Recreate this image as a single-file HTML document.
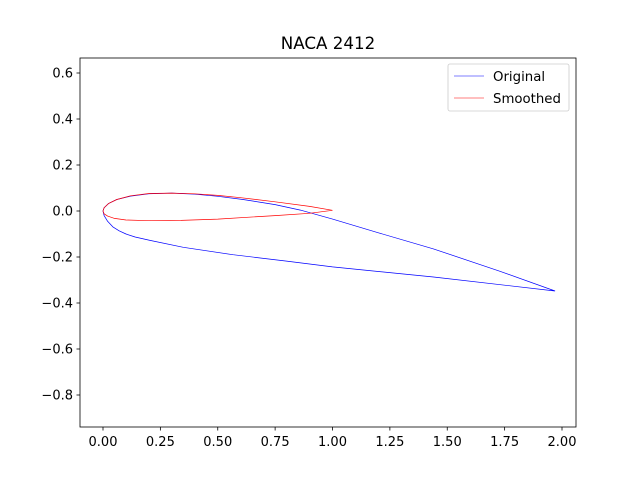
<!DOCTYPE html>
<html><head><meta charset="utf-8"><style>
body{margin:0;background:#fff;font-family:"Liberation Sans","DejaVu Sans",sans-serif}
svg text{font-family:"DejaVu Sans","Liberation Sans",sans-serif}
</style></head><body>
<svg width="640" height="480" xmlns="http://www.w3.org/2000/svg">
<rect width="640" height="480" fill="#fff"/>
<text x="328" y="49" font-size="16.7" text-anchor="middle">NACA 2412</text>
<g id="plot"></g>
<rect x="80" y="58" width="496" height="369" fill="none" stroke="#000" stroke-width="0.8"/>
<g id="ticks"></g>
<g>
<rect x="448" y="64" width="121" height="47" rx="2" fill="#fff" stroke="#ccc" stroke-width="0.8"/>
<line x1="454" y1="76" x2="484" y2="76" stroke="blue" stroke-width="0.6"/>
<text x="493" y="81" font-size="13.3">Original</text>
<line x1="454" y1="98" x2="484" y2="98" stroke="red" stroke-width="0.6"/>
<text x="493" y="103" font-size="13.3">Smoothed</text>
</g>
</svg>
<script>
const origX=[1.97,1.73,1.44,1.2,1.0,0.86,0.75,0.61,0.5,0.4,0.3,0.2,0.12,0.06,0.025,0.005,0,0.005,0.02,0.044,0.07,0.1,0.14,0.205,0.35,0.566,0.8,1.0,1.44,1.97];
const origY=[-0.348,-0.262,-0.165,-0.095,-0.035,0.004,0.028,0.05,0.064,0.073,0.078,0.075,0.065,0.05,0.033,0.014,0,-0.02,-0.045,-0.07,-0.086,-0.1,-0.113,-0.128,-0.158,-0.19,-0.218,-0.243,-0.287,-0.348];
const smX=[1.0,0.9,0.75,0.6,0.5,0.4,0.3,0.2,0.12,0.06,0.025,0.005,0,0.005,0.02,0.05,0.1,0.2,0.34,0.5,0.75,0.9,1.0];
const smY=[0.003,0.02,0.04,0.058,0.068,0.075,0.078,0.076,0.066,0.05,0.033,0.014,0,-0.012,-0.022,-0.032,-0.039,-0.042,-0.041,-0.035,-0.02,-0.01,0.003];
const xTicks=[0,0.25,0.5,0.75,1.0,1.25,1.5,1.75,2.0];
const xTickLabels=["0.00","0.25","0.50","0.75","1.00","1.25","1.50","1.75","2.00"];
const yTicks=[0.6,0.4,0.2,0.0,-0.2,-0.4,-0.6,-0.8];
const yTickLabels=["0.6","0.4","0.2","0.0","−0.2","−0.4","−0.6","−0.8"];
const sx=v=>103+v*229.5, sy=v=>211-v*230;
const NS="http://www.w3.org/2000/svg";
const plot=document.getElementById('plot'), ticks=document.getElementById('ticks');
function line(xs,ys,col,name){
 const p=document.createElementNS(NS,'polyline');
 p.setAttribute('points',xs.map((x,i)=>sx(x).toFixed(1)+','+sy(ys[i]).toFixed(1)).join(' '));
 p.setAttribute('fill','none');p.setAttribute('stroke',col);p.setAttribute('stroke-width','0.7');p.setAttribute('stroke-linejoin','round');
 
 
 plot.appendChild(p);
}
line(origX,origY,'blue','original-curve');
line(smX,smY,'red','smoothed-curve');
xTicks.forEach((t,i)=>{
 const l=document.createElementNS(NS,'line');const x=sx(t);
 l.setAttribute('x1',x);l.setAttribute('x2',x);l.setAttribute('y1',427);l.setAttribute('y2',430.5);l.setAttribute('stroke','#000');l.setAttribute('stroke-width','0.8');
 
 
 ticks.appendChild(l);
 const tx=document.createElementNS(NS,'text');tx.setAttribute('x',x);tx.setAttribute('y',446);tx.setAttribute('font-size','13');tx.setAttribute('text-anchor','middle');tx.textContent=xTickLabels[i];
 
 
 ticks.appendChild(tx);
});
yTicks.forEach((t,i)=>{
 const l=document.createElementNS(NS,'line');const y=sy(t);
 l.setAttribute('x1',76.5);l.setAttribute('x2',80);l.setAttribute('y1',y);l.setAttribute('y2',y);l.setAttribute('stroke','#000');l.setAttribute('stroke-width','0.8');
 
 
 ticks.appendChild(l);
 const tx=document.createElementNS(NS,'text');tx.setAttribute('x',73);tx.setAttribute('y',y+4.5);tx.setAttribute('font-size','13');tx.setAttribute('text-anchor','end');tx.textContent=yTickLabels[i];
 
 
 ticks.appendChild(tx);
});
</script>
</body></html>
